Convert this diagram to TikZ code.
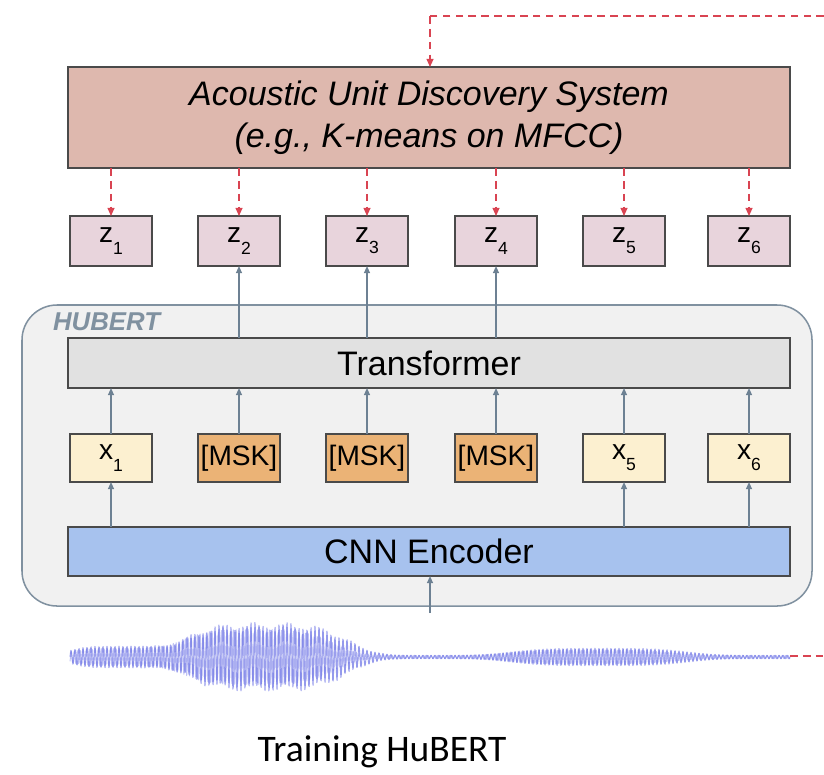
\documentclass[tikz,border=0pt]{standalone}
\usepackage{fontspec}
\setmainfont{Liberation Sans}
\newfontfamily\captionfont{Carlito}
\usetikzlibrary{arrows.meta}

\definecolor{audsfill}{RGB}{222,184,174}
\definecolor{zfill}{RGB}{232,212,220}
\definecolor{hubfill}{RGB}{241,241,241}
\definecolor{hubedge}{RGB}{128,145,160}
\definecolor{transfill}{RGB}{225,225,225}
\definecolor{xfill}{RGB}{252,240,208}
\definecolor{mskfill}{RGB}{235,179,118}
\definecolor{cnnfill}{RGB}{167,194,238}
\definecolor{boxedge}{RGB}{74,74,74}
\definecolor{flowblue}{RGB}{109,129,147}
\definecolor{targetred}{RGB}{217,68,82}
\definecolor{wavecol}{RGB}{114,120,230}

\newcommand\lowsub[1]{\raisebox{-0.4em}{\fontsize{15}{15}\selectfont #1}}

% flat-topped bump: env(x, centre, half-width), clamped to stay in range
\tikzset{declare function={env(\p,\c,\w)=exp(-(min(((\p-\c)/\w)^2,4))^2);}}

\tikzset{
  box/.style={draw=boxedge, line width=1.2pt, inner sep=0pt, outer sep=0pt, align=center},
  widebox/.style={box, minimum width={722*0.03cm}},
  unitbox/.style={box, minimum width={82*0.03cm}, minimum height={50*0.03cm},
    font=\fontsize{24}{24}\selectfont},
  zbox/.style={unitbox, fill=zfill},
  xbox/.style={unitbox, fill=xfill, minimum height={48*0.03cm}},
  mskbox/.style={unitbox, fill=mskfill, minimum height={48*0.03cm}},
  flow/.style={draw=flowblue, line width=1.2pt, -{Triangle[length=6pt,width=5pt]}},
  target/.style={draw=targetred, line width=1.1pt, dash pattern=on 6.5pt off 4.5pt},
  targetarrow/.style={target, -{Triangle[length=7pt,width=6pt]}},
  wave/.style={wavecol, line width=0.8pt, line join=round},
}

\begin{document}
\begin{tikzpicture}[x=0.03cm, y=-0.03cm]
  \useasboundingbox (0,0) rectangle (824,774);

  % HuBERT model container
  \draw[draw=hubedge, fill=hubfill, line width=1.3pt, rounded corners=1.05cm]
    (22,305) rectangle (812,606);
  \node[anchor=west, text=hubedge, font=\fontsize{22}{22}\selectfont\bfseries\itshape]
    (hublabel) at (49,322) {HUBERT};

  % clustering system producing the targets
  \node[widebox, fill=audsfill, minimum height={101*0.03cm},
        font=\fontsize{29}{36}\selectfont\itshape] (auds) at (429,117.5)
    {Acoustic Unit Discovery System\\(e.g., K-means on MFCC)};

  % target units
  \node[zbox] (z1) at (111,241) {z\lowsub{1}};
  \node[zbox] (z2) at (239,241) {z\lowsub{2}};
  \node[zbox] (z3) at (367,241) {z\lowsub{3}};
  \node[zbox] (z4) at (496,241) {z\lowsub{4}};
  \node[zbox] (z5) at (624,241) {z\lowsub{5}};
  \node[zbox] (z6) at (749,241) {z\lowsub{6}};

  % transformer
  \node[widebox, fill=transfill, minimum height={50*0.03cm},
        font=\fontsize{29}{29}\selectfont] (trans) at (429,363) {Transformer};

  % frame features and masked positions
  \node[xbox]   (x1) at (111,458) {x\lowsub{1}};
  \node[mskbox] (m2) at (239,458) {[MSK]};
  \node[mskbox] (m3) at (367,458) {[MSK]};
  \node[mskbox] (m4) at (496,458) {[MSK]};
  \node[xbox]   (x5) at (624,458) {x\lowsub{5}};
  \node[xbox]   (x6) at (749,458) {x\lowsub{6}};

  % CNN encoder
  \node[widebox, fill=cnnfill, minimum height={49*0.03cm},
        font=\fontsize{29}{29}\selectfont] (cnn) at (429,551.5) {CNN Encoder};

  % speech waveform: fast carriers under a two-burst envelope
  \draw[wave, opacity=0.75]
    plot[domain=70:790, samples=1500]
    ({\x},{657 + (1.8 + 9*env(\x,115,50) + 30*env(\x,265,90)
                   + 7*env(\x,600,95))*sin(90*mod(\x,4))
                 + 3*env(\x,265,90)*sin(11*\x)});
  \draw[wave, opacity=0.45]
    plot[domain=70:790, samples=1500]
    ({\x},{657 + (1.5 + 7*env(\x,115,50) + 26*env(\x,255,85)
                   + 6*env(\x,590,90))*sin(120*mod(\x,3))});
  \coordinate (wavein) at (430,613);
  \coordinate (waveend) at (790,656);
  \coordinate (waveout) at (824,656);
  \coordinate (loopturn) at (430,16);
  \coordinate (loopin) at (824,16);

  % forward flow
  \draw[flow] (wavein) -- (cnn.south -| wavein);
  \foreach \n in {x1,x5,x6}
    \draw[flow] (cnn.north -| \n) -- (\n.south);
  \foreach \n in {x1,m2,m3,m4,x5,x6}
    \draw[flow] (\n.north) -- (trans.south -| \n);
  \foreach \n in {z2,z3,z4}
    \draw[flow] (trans.north -| \n) -- (\n.south);

  % targets from the discovery system
  \foreach \n in {z1,z2,z3,z4,z5,z6}
    \draw[targetarrow] (auds.south -| \n) -- (\n.north);
  \draw[target] (waveend) -- (waveout);
  \draw[target] (loopin) -- (loopturn);
  \draw[targetarrow] (loopturn) -- (auds.north -| loopturn);

  % caption
  \node[font=\captionfont\fontsize{32}{32}\selectfont] (caption) at (382,752) {Training HuBERT};
\end{tikzpicture}
\end{document}
